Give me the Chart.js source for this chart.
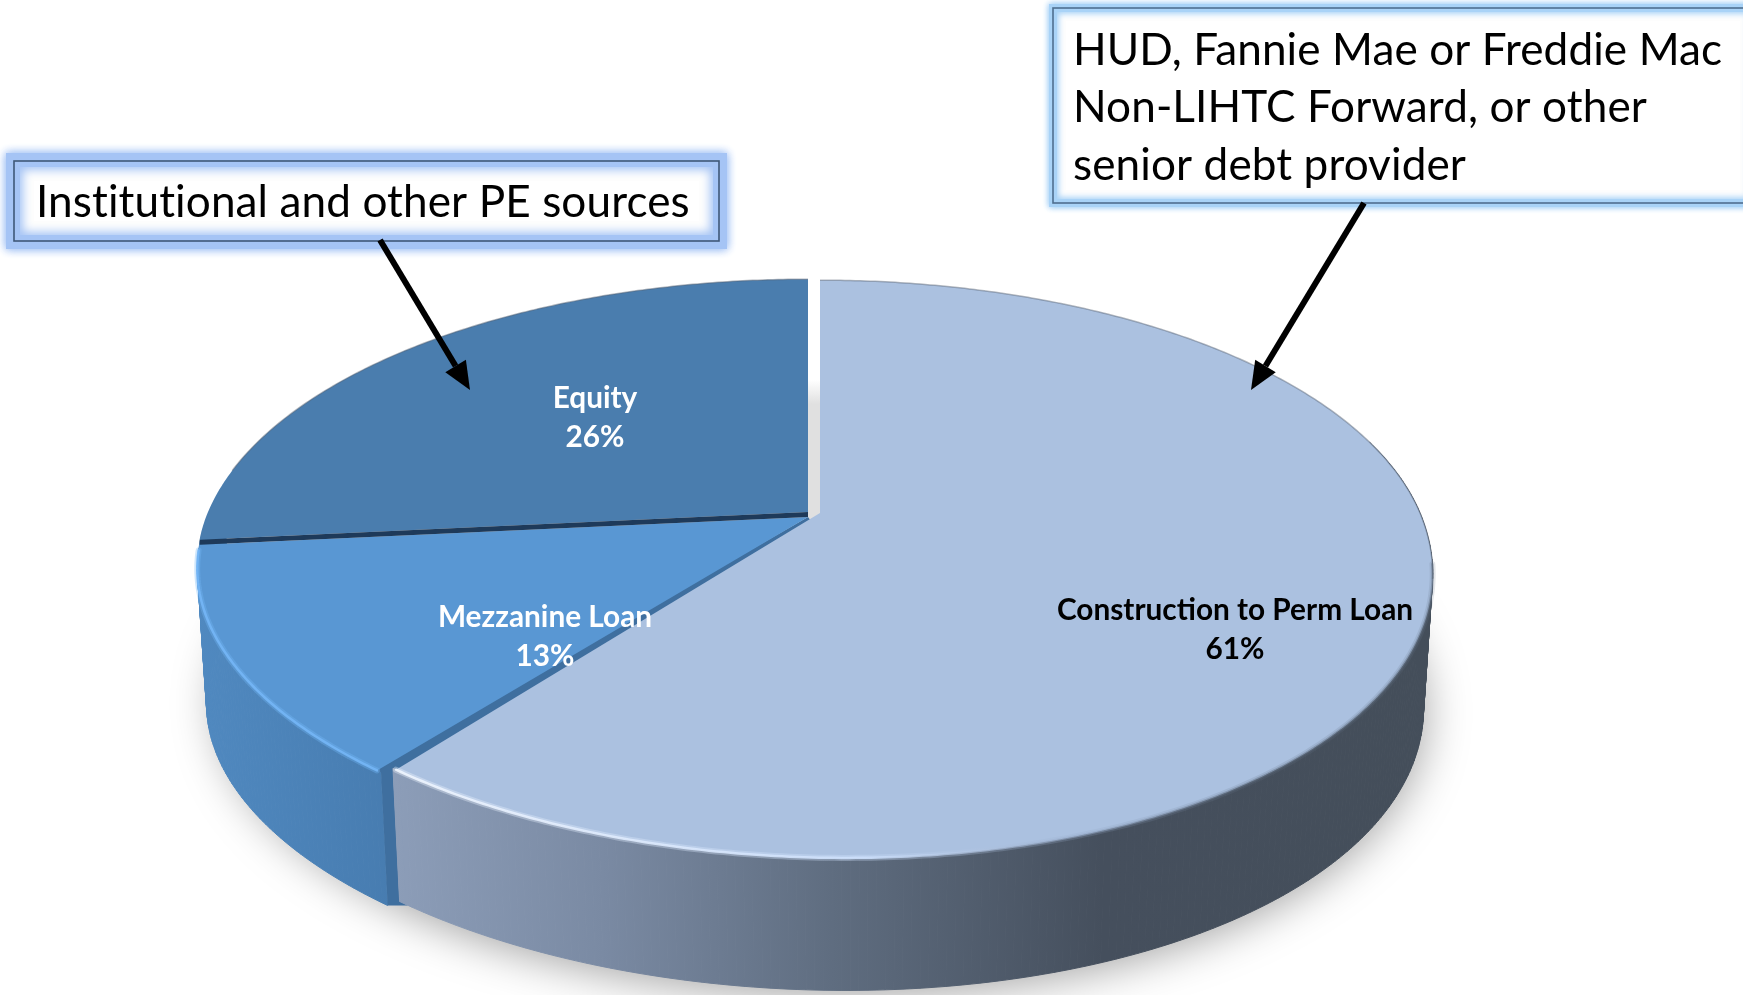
<!DOCTYPE html>
<html>
<head>
<meta charset="utf-8">
<title>Loan mix</title>
<script src="https://cdn.jsdelivr.net/npm/chart.js@4/dist/chart.umd.min.js"></script>
<style>
    html, body { margin: 0; padding: 0; background: #fff; }
    canvas { display: block; }
</style>
</head>
<body>
<canvas id="pie" width="1743" height="995"></canvas>
<script>
const categories = ["Construction to Perm Loan", "Mezzanine Loan", "Equity"];
const shares = [61, 13, 26];
const faceColors = ["#abc1e0", "#5997d3", "#4a7dae"];
const labelColors = ["#000000", "#ffffff", "#ffffff"];

// where each slice label sits (centre x, first line y)
const labelSpots = [[1235, 610], [545, 617], [595, 398]];
// the tip of each slice, the big one is pulled out a bit
const sliceTips = [[820, 513], [808, 517], [808, 512]];

// tilted circle: rx/ry are the radii, k is the perspective, skew leans the near side,
// turn pulls the far left of the rim down a little
const tilt = { rx: 600, ry: 278, k: 0.194, skew: 26, turn: 0.035, drop: 135, wallRy: 276, wallScale: 0.985 };

const calloutLeft = {
    box: [14, 161, 705, 80], glow: "#a5c4f5", band: 8, blur: 10, inner: 6, innerBlur: 12, border: "#3f5878",
    lines: ["Institutional and other PE sources"], x: 36, y: [203],
    arrow: [380, 240, 470, 390]
};
const calloutRight = {
    box: [1053, 8, 700, 195], glow: "#a9d3f7", band: 4, blur: 6, inner: 4, innerBlur: 7, border: "#4f6f8f",
    lines: ["HUD, Fannie Mae or Freddie Mac", "Non-LIHTC Forward, or other", "senior debt provider"],
    x: 1073, y: [51, 108, 166],
    arrow: [1364, 203, 1251, 390]
};

function rimPoint(theta, tip, level) {
    const s = Math.min(0, Math.sin(theta));
    const t = theta - tilt.turn * s * s;
    const u = Math.sin(t);
    const v = -Math.cos(t);
    const w = 1 - tilt.k * v;
    const lean = v > 0 ? tilt.skew * v * v : 0;
    if (level === 0) {
        return [tip[0] + tilt.rx * u / w + lean, tip[1] + tilt.ry * v / w];
    }
    return [tip[0] + tilt.wallScale * tilt.rx * u / w + lean, tip[1] + tilt.drop + tilt.wallRy * v / w];
}

function rimPath(ctx, from, to, tip, level, moveFirst) {
    const steps = Math.max(2, Math.ceil(Math.abs(to - from) / 0.01));
    for (let i = 0; i <= steps; i++) {
        const p = rimPoint(from + (to - from) * i / steps, tip, level);
        if (i === 0 && moveFirst) ctx.moveTo(p[0], p[1]);
        else ctx.lineTo(p[0], p[1]);
    }
}

function drawFace(ctx, from, to, tip, color) {
    ctx.beginPath();
    ctx.moveTo(tip[0], tip[1]);
    rimPath(ctx, from, to, tip, 0, false);
    ctx.closePath();
    ctx.fillStyle = color;
    ctx.fill();
}

// the wall is swept in thin strips so the outline stays round at the far ends
function drawWall(ctx, from, to, tip, paint) {
    const step = 0.012;
    ctx.fillStyle = paint;
    ctx.strokeStyle = paint;
    ctx.lineWidth = 1;
    for (let t = from; t < to; t += step) {
        const end = Math.min(t + step, to);
        const a = rimPoint(t, tip, 0), b = rimPoint(end, tip, 0);
        const c = rimPoint(end, tip, 1), d = rimPoint(t, tip, 1);
        ctx.beginPath();
        ctx.moveTo(a[0], a[1]);
        ctx.lineTo(b[0], b[1]);
        ctx.lineTo(c[0], c[1]);
        ctx.lineTo(d[0], d[1]);
        ctx.closePath();
        ctx.fill();
        ctx.stroke();
    }
}

function drawHighlight(ctx, from, to, tip, paint) {
    ctx.save();
    ctx.lineCap = "round";
    ctx.strokeStyle = paint;
    ctx.globalAlpha = 0.35;
    ctx.lineWidth = 6;
    ctx.beginPath();
    rimPath(ctx, from, to, tip, 0, true);
    ctx.stroke();
    ctx.globalAlpha = 0.9;
    ctx.lineWidth = 2.5;
    ctx.beginPath();
    rimPath(ctx, from, to, tip, 0, true);
    ctx.stroke();
    ctx.restore();
}

function drawCallout(ctx, c) {
    const [x, y, w, h] = c.box;
    ctx.save();
    ctx.shadowColor = c.glow;
    ctx.shadowBlur = c.blur;
    ctx.strokeStyle = c.glow;
    ctx.lineWidth = c.band * 2;
    for (let i = 0; i < 2; i++) ctx.strokeRect(x, y, w, h);
    ctx.restore();

    ctx.save();
    ctx.beginPath();
    ctx.rect(x, y, w, h);
    ctx.clip();
    ctx.fillStyle = "#fff";
    ctx.fillRect(x, y, w, h);
    ctx.shadowColor = c.glow;
    ctx.shadowBlur = c.innerBlur;
    ctx.strokeStyle = c.glow;
    ctx.lineWidth = c.inner * 2;
    for (let i = 0; i < 2; i++) ctx.strokeRect(x, y, w, h);
    ctx.restore();

    ctx.strokeStyle = c.border;
    ctx.lineWidth = 1.6;
    ctx.strokeRect(x, y, w, h);

    ctx.fillStyle = "#000";
    ctx.font = "44.1px Lato";
    ctx.letterSpacing = "0.1px";
    ctx.textAlign = "left";
    ctx.textBaseline = "middle";
    c.lines.forEach((line, i) => ctx.fillText(line, c.x, c.y[i]));
    ctx.letterSpacing = "0px";
}

function drawArrow(ctx, a) {
    const [x1, y1, x2, y2] = a;
    const angle = Math.atan2(y2 - y1, x2 - x1);
    const back = 28, side = 12;
    const bx = x2 - back * Math.cos(angle), by = y2 - back * Math.sin(angle);
    ctx.strokeStyle = "#000";
    ctx.lineWidth = 6;
    ctx.beginPath();
    ctx.moveTo(x1, y1);
    ctx.lineTo(bx, by);
    ctx.stroke();
    ctx.fillStyle = "#000";
    ctx.beginPath();
    ctx.moveTo(x2, y2);
    ctx.lineTo(bx - side * Math.sin(angle), by + side * Math.cos(angle));
    ctx.lineTo(bx + side * Math.sin(angle), by - side * Math.cos(angle));
    ctx.closePath();
    ctx.fill();
}

// Chart.js works out the slice angles, this draws them as a tilted 3D pie
const tiltedPie = {
    id: "tiltedPie",
    beforeDatasetDraw(chart) {
        const ctx = chart.ctx;
        const meta = chart.getDatasetMeta(0);
        const arcs = meta.data.map(el => ({
            a: el.startAngle + Math.PI / 2,
            b: el.endAngle + Math.PI / 2
        }));
        const [big, mezz, equity] = arcs;
        const [bigTip, mezzTip, equityTip] = sliceTips;

        // floor shadow
        ctx.save();
        ctx.shadowColor = "rgba(0,0,0,0.38)";
        ctx.shadowBlur = 46;
        ctx.shadowOffsetY = 4;
        ctx.fillStyle = "#dedede";
        ctx.beginPath();
        rimPath(ctx, 0, Math.PI * 2, bigTip, 1, true);
        ctx.closePath();
        ctx.fill();
        ctx.restore();

        // gap between the pulled out slice and the rest
        const gapTop = 380;
        const gap = ctx.createLinearGradient(0, gapTop, 0, gapTop + 24);
        gap.addColorStop(0, "#ffffff");
        gap.addColorStop(1, "#e0e0e0");
        ctx.fillStyle = "#ffffff";
        ctx.fillRect(equityTip[0], 260, bigTip[0] - equityTip[0], gapTop - 260);
        ctx.fillStyle = gap;
        ctx.fillRect(equityTip[0], gapTop, bigTip[0] - equityTip[0], bigTip[1] - gapTop + 6);

        // mezzanine wall and its cut side
        const mezzPaint = ctx.createLinearGradient(195, 0, 395, 0);
        mezzPaint.addColorStop(0, "#5089c0");
        mezzPaint.addColorStop(1, "#477cb0");
        drawWall(ctx, mezz.a, mezz.b + 0.2, mezzTip, mezzPaint);

        const edgeTop = rimPoint(mezz.a + 0.02, mezzTip, 0);
        const tipTop = rimPoint(mezz.a, mezzTip, 0);
        const tipBottom = rimPoint(mezz.a, mezzTip, 1);
        ctx.fillStyle = "#3f6f9f";
        ctx.beginPath();
        ctx.moveTo(mezzTip[0], mezzTip[1]);
        ctx.lineTo(edgeTop[0], edgeTop[1]);
        ctx.lineTo(tipTop[0], tipTop[1]);
        ctx.lineTo(tipBottom[0], tipBottom[1]);
        ctx.lineTo(tipBottom[0] + 20, tipBottom[1]);
        ctx.lineTo(tipTop[0] + 20, tipTop[1] + 20);
        ctx.lineTo(bigTip[0], bigTip[1] + 20);
        ctx.closePath();
        ctx.fill();

        // construction wall, light on the left and dark on the right
        const bigPaint = ctx.createLinearGradient(395, 0, 1435, 0);
        bigPaint.addColorStop(0, "#8c9db8");
        bigPaint.addColorStop(0.2, "#7a8aa3");
        bigPaint.addColorStop(0.42, "#5f6d80");
        bigPaint.addColorStop(0.68, "#454f5d");
        bigPaint.addColorStop(1, "#444e5a");
        drawWall(ctx, 1.3, big.b, bigTip, bigPaint);

        // top faces, pulled back a hair at the shared edge so the cut side shows
        drawFace(ctx, equity.a, equity.b, equityTip, faceColors[2]);
        drawFace(ctx, mezz.a + 0.008, mezz.b, mezzTip, faceColors[1]);

        const seamTop = rimPoint(equity.a, equityTip, 0);
        const seamLow = rimPoint(equity.a, mezzTip, 0);
        ctx.fillStyle = "#1e3a5a";
        ctx.beginPath();
        ctx.moveTo(equityTip[0], equityTip[1]);
        ctx.lineTo(seamTop[0], seamTop[1]);
        ctx.lineTo(seamLow[0], seamLow[1]);
        ctx.lineTo(mezzTip[0], mezzTip[1]);
        ctx.closePath();
        ctx.fill();

        drawHighlight(ctx, mezz.a + 0.008, mezz.b - 0.02, mezzTip, "#74b6f6");
        drawFace(ctx, big.a, big.b - 0.006, bigTip, faceColors[0]);

        const shine = ctx.createLinearGradient(395, 0, 1250, 0);
        shine.addColorStop(0, "rgba(240,246,255,1)");
        shine.addColorStop(0.55, "rgba(205,224,252,1)");
        shine.addColorStop(0.8, "rgba(150,170,200,0.6)");
        shine.addColorStop(1, "rgba(100,115,135,0.5)");
        drawHighlight(ctx, 1.75, big.b - 0.006, bigTip, shine);

        // thin grey edge along the far side of the pie
        ctx.strokeStyle = "rgba(85,95,110,0.45)";
        ctx.lineWidth = 1.5;
        ctx.beginPath();
        rimPath(ctx, big.a, 1.8, bigTip, 0, true);
        ctx.stroke();
        ctx.beginPath();
        rimPath(ctx, 4.9, equity.b, equityTip, 0, true);
        ctx.stroke();

        return false;
    },
    afterDraw(chart) {
        const ctx = chart.ctx;
        ctx.save();
        ctx.textAlign = "center";
        ctx.textBaseline = "middle";
        ctx.font = "bold 29.8px Lato";
        categories.forEach((name, i) => {
            ctx.fillStyle = labelColors[i];
            ctx.fillText(name, labelSpots[i][0], labelSpots[i][1]);
            ctx.fillText(shares[i] + "%", labelSpots[i][0], labelSpots[i][1] + 39);
        });
        [calloutLeft, calloutRight].forEach(c => {
            ctx.save();
            drawCallout(ctx, c);
            ctx.restore();
        });
        [calloutLeft, calloutRight].forEach(c => drawArrow(ctx, c.arrow));
        ctx.restore();
    }
};

new Chart(document.getElementById("pie"), {
    type: "pie",
    plugins: [tiltedPie],
    data: {
        labels: categories,
        datasets: [{ data: shares, backgroundColor: faceColors, borderWidth: 0 }]
    },
    options: {
        responsive: false,
        animation: false,
        layout: { padding: 0 },
        plugins: {
            legend: { display: false },
            tooltip: { enabled: false }
        }
    }
});
</script>
</body>
</html>
